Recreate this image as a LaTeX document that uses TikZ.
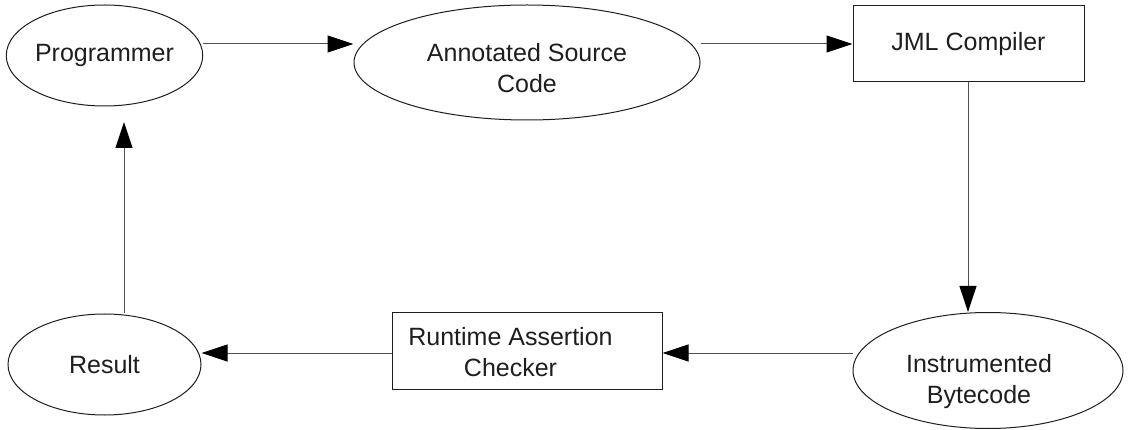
\documentclass[tikz,border=0pt]{standalone}
\usepackage{fontspec}
\setmainfont{Liberation Sans}
\usetikzlibrary{shapes.geometric,arrows.meta}
\definecolor{ink}{HTML}{1E1E1E}
\definecolor{wire}{HTML}{505050}
\begin{document}
\begin{tikzpicture}[x=1pt,y=-1pt,
  ell/.style={ellipse,draw=ink,line width=1pt,inner sep=0pt},
  boxst/.style={rectangle,draw=ink,line width=1pt,inner sep=0pt},
  txt/.style={text=ink,font=\fontsize{25}{31}\selectfont,align=center,inner sep=0pt},
  arr/.style={draw=wire,line width=1pt,-{Triangle[length=26pt,width=17pt,color=black]}}]
\useasboundingbox (0,0) rectangle (1130,430);

% nodes
\node[ell,txt,minimum width=193pt,minimum height=101pt] (prog) at (104.5,55.5) {Programmer};
\node[ell,minimum width=346pt,minimum height=115pt] (asc) at (527,62.5) {};
\node[txt] (ascT) at (527,68) {Annotated Source\\Code};
\node[boxst,txt,minimum width=231pt,minimum height=76pt] (jml) at (968.5,44) {JML Compiler};
\node[ell,minimum width=270pt,minimum height=116pt] (ib) at (988,370.5) {};
\node[txt] (ibT) at (979,382) {Instrumented\\Bytecode};
\node[boxst,minimum width=270pt,minimum height=76pt] (rac) at (527,351) {};
\node[txt] (racT) at (510.5,352) {Runtime Assertion\\Checker};
\node[ell,txt,minimum width=193pt,minimum height=101pt] (res) at (104.5,364.5) {Result};

% helper coordinates
\coordinate (top) at (0,44);
\coordinate (bot) at (0,353);
\coordinate (tipP) at (124,122);

% connectors
\draw[arr] (prog.east |- top) -- (asc.west |- top);
\draw[arr] (asc.east |- top) -- (jml.west);
\draw[arr] (jml.south -| 968,0) -- (ib.north -| 968,0);
\draw[arr] (ib.west |- bot) -- (rac.east |- bot);
\draw[arr] (rac.west |- bot) -- (res.east |- bot);
\draw[arr] (res.north -| tipP) -- (tipP);
\end{tikzpicture}
\end{document}
